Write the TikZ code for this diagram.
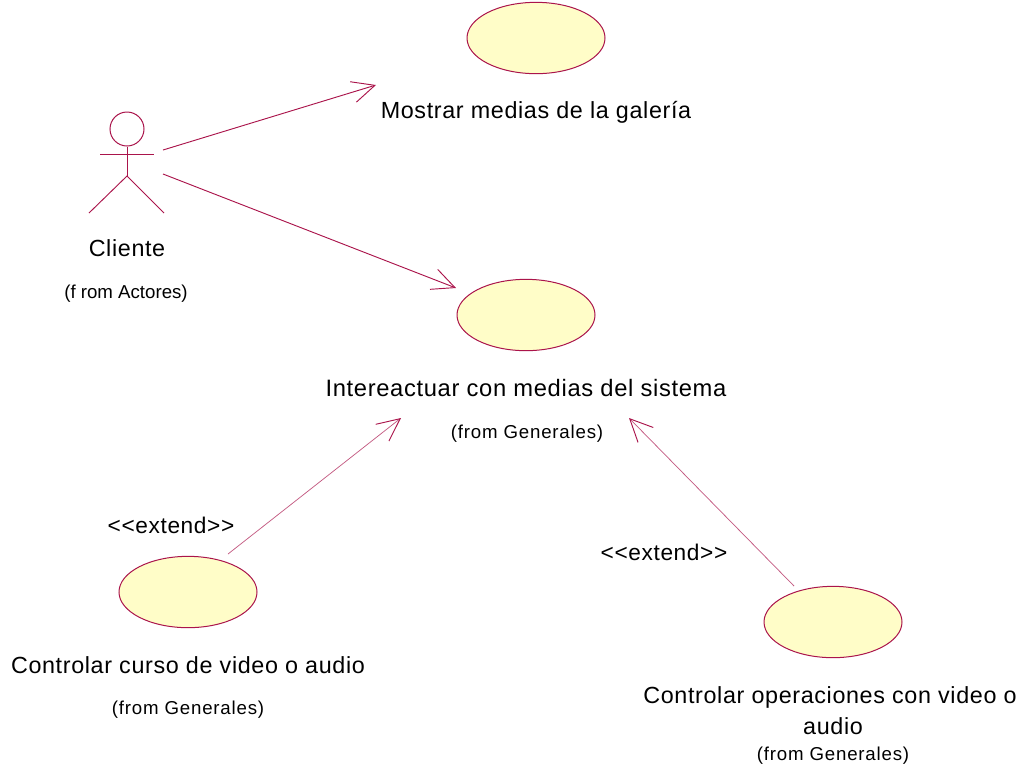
\documentclass[tikz,border=0pt]{standalone}
\usepackage{fontspec}
\setmainfont{Liberation Sans}
\newfontfamily\bigfont[LetterSpace=2.75]{Liberation Sans}
\newfontfamily\smallfont[LetterSpace=4.3]{Liberation Sans}
\usetikzlibrary{arrows.meta,shapes.geometric}
\definecolor{umlline}{RGB}{170,20,75}
\definecolor{umlfill}{RGB}{255,253,200}
\tikzset{
  usecase/.style={ellipse,draw=umlline,fill=umlfill,line width=0.75pt,minimum width=103.5pt,minimum height=53.5pt,inner sep=0pt},
  conn/.style={draw=umlline,line width=0.7pt,-{Straight Barb[length=17pt,width=16pt,line width=0.7pt]}},
  extconn/.style={draw=umlline!70,line width=0.55pt,-{Straight Barb[length=17pt,width=16pt,line width=0.7pt,color=umlline]}},
  limb/.style={draw=umlline,line width=0.7pt},
  bigtext/.style={font=\bigfont\fontsize{17.5}{21}\selectfont,text=black,inner sep=0pt,align=center},
  stereotext/.style={font=\bigfont\fontsize{17}{21}\selectfont,text=black,inner sep=0pt,align=center},
  widetext/.style={font=\bigfont\fontsize{17.8}{21}\selectfont,text=black,inner sep=0pt,align=center},
  smalltext/.style={font=\smallfont\fontsize{14}{17}\selectfont,text=black,inner sep=0pt,align=center},
  actortext/.style={font=\fontsize{14}{17}\selectfont,text=black,inner sep=0pt,align=center}
}
\begin{document}
\begin{tikzpicture}[x=0.75pt,y=-0.75pt]
\useasboundingbox (0,0) rectangle (1024,769);
\node[usecase] (uc1) at (536,38) {};
\node[usecase] (uc2) at (526,315) {};
\node[usecase] (uc3) at (188,592) {};
\node[usecase] (uc4) at (833,622) {};
\node[bigtext] (t1) at (536,112) {Mostrar medias de la galería};
\node[widetext] (t2) at (526,388) {Intereactuar con medias del sistema};
\node[smalltext] (t2b) at (527,434) {(from Generales)};
\node[bigtext] (t3) at (188,665) {Controlar curso de video o audio};
\node[smalltext] (t3b) at (188,710) {(from Generales)};
\node[bigtext] (t4) at (830,697) {Controlar operaciones con video o};
\node[bigtext] (t4a) at (833,726) {audio};
\node[smalltext] (t4b) at (833,756) {(from Generales)};
\node[stereotext] (e1) at (171,525) {<{}<extend>{}>};
\node[stereotext] (e2) at (664,552) {<{}<extend>{}>};
\node[bigtext] (act) at (127,248) {Cliente};
\node[actortext] (actb) at (126,294) {(f rom Actores)};
% actor
\node[circle,draw=umlline,line width=0.75pt,minimum size=25.5pt,inner sep=0pt] (head) at (127,129) {};
\coordinate (hip) at (127,176);
\coordinate (armL) at (100,154);
\coordinate (armR) at (154,154);
\coordinate (legL) at (89,213);
\coordinate (legR) at (164,213);
\draw[limb] (head.south) -- (hip);
\draw[limb] (armL) -- (armR);
\draw[limb] (legL) -- (hip) -- (legR);
% connectors
\coordinate (a1s) at (163,150);
\coordinate (a1e) at (376,85);
\coordinate (a2s) at (163,174);
\coordinate (a2e) at (456,288);
\coordinate (a3s) at (228,554);
\coordinate (a3e) at (401,418);
\coordinate (a4s) at (794,586);
\coordinate (a4e) at (629,418);
\draw[conn] (a1s) -- (a1e);
\draw[conn] (a2s) -- (a2e);
\draw[extconn] (a3s) -- (a3e);
\draw[extconn] (a4s) -- (a4e);
\end{tikzpicture}
\end{document}
